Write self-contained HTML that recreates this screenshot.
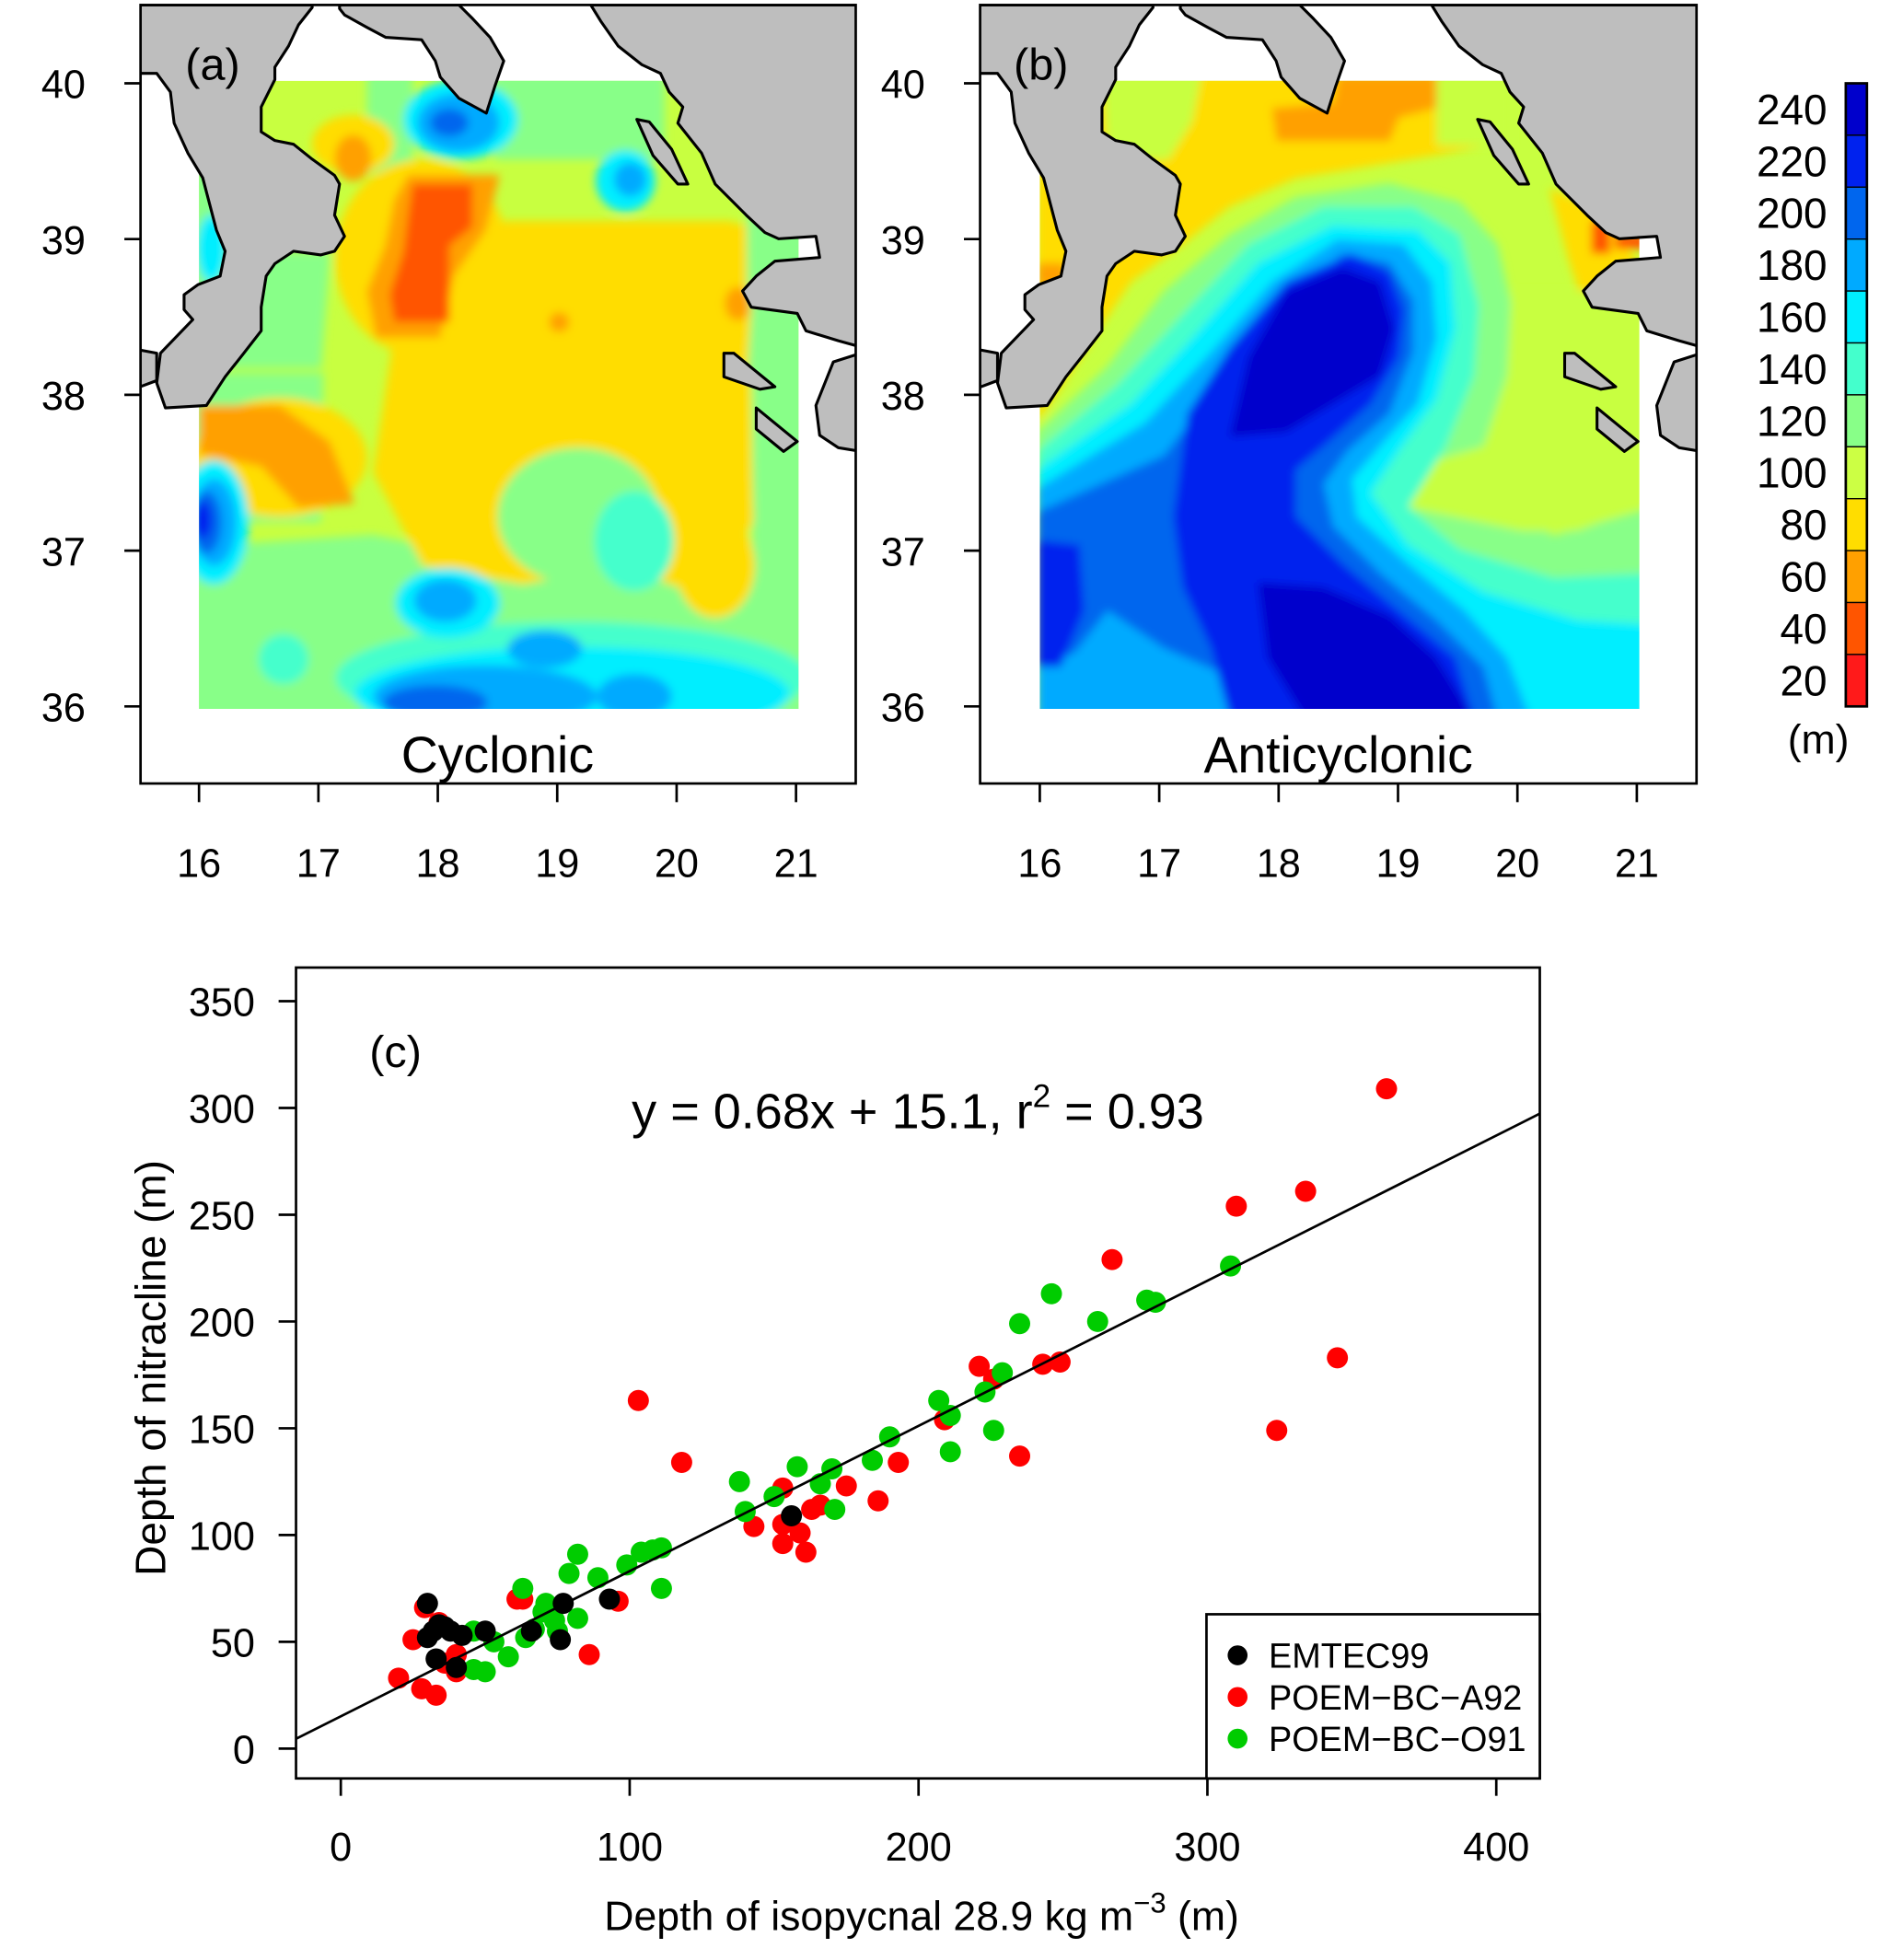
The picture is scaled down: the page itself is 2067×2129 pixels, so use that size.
<!DOCTYPE html>
<html><head><meta charset="utf-8"><style>
html,body{margin:0;padding:0;background:#fff}
svg{display:block}
text{font-family:"Liberation Sans",Arial,sans-serif;fill:#000}
</style></head><body>
<svg id="fig" width="2067" height="2129" viewBox="0 0 1530 1576" preserveAspectRatio="none" xmlns="http://www.w3.org/2000/svg">
<defs>
  <filter id="bl" x="-10%" y="-10%" width="120%" height="120%"><feGaussianBlur stdDeviation="3.5"/></filter>
  <clipPath id="gridA"><rect x="160" y="65" width="482" height="505"/></clipPath>
  <clipPath id="gridB"><rect x="836" y="65" width="482" height="505"/></clipPath>
  <clipPath id="boxA"><rect x="113" y="4" width="575" height="626"/></clipPath>
  <clipPath id="boxB"><rect x="788" y="4" width="576" height="626"/></clipPath>
  <clipPath id="boxC"><rect x="238" y="778" width="1000" height="652"/></clipPath>
  <g id="land">
    <path d="M110,4 L251,4 L251,6 L240,20 L232,37 L221,54 L221,64 L210,86 L210,106 L221,113 L236,116 L251,128 L269,141 L273,148 L269,173 L277,190 L269,202 L258,205 L236,202 L221,212 L214,222 L210,247 L210,266 L196,284 L181,303 L166,326 L133,328 L126,308 L129,284 L155,257 L148,249 L148,237 L159,229 L177,222 L181,202 L174,185 L163,143 L151,123 L140,99 L137,74 L126,59 L110,59 Z"/>
    <path d="M110,281 L126,284 L126,306 L110,312 Z"/>
    <path d="M273,4 L273,7 L277,12 L295,22 L310,30 L339,32 L350,49 L354,62 L369,79 L391,91 L398,69 L405,49 L394,30 L380,15 L369,4 Z"/>
    <path d="M475,4 L692,4 L692,279 L674,274 L648,266 L641,252 L604,247 L597,234 L608,222 L623,210 L659,207 L656,190 L626,192 L615,187 L600,173 L575,148 L564,123 L545,99 L549,86 L538,74 L531,59 L516,52 L497,37 L483,17 Z"/>
    <path d="M512,96 L522,98 L540,120 L553,148 L545,148 L525,125 Z"/>
    <path d="M582,284 L590,284 L623,311 L611,313 L582,303 Z"/>
    <path d="M608,328 L641,355 L630,363 L608,345 Z"/>
    <path d="M692,284 L670,291 L656,326 L659,350 L674,360 L692,363 Z"/>
  </g>
</defs>

<!-- PANEL A -->
<g>
  <g clip-path="url(#gridA)">
    <rect x="160" y="65" width="482" height="505" fill="#c8ff40"/>
    <g filter="url(#bl)">
      <!-- lower half, display coords -->
      <path fill="#88ff88" d="M150,300 L260,300 L258,420 L150,420 Z"/>
      <path fill="#88ff88" d="M150,440 L300,430 L420,455 L560,470 L650,440 L650,580 L150,580 Z"/>
      <path fill="#88ff88" d="M605,170 L650,170 L650,460 L605,460 Z"/>
      <path fill="#ffdd00" d="M330,180 L600,180 L606,420 L565,480 L500,455 L420,470 L340,455 L300,380 Z"/>
      <ellipse fill="#88ff88" cx="465" cy="415" rx="65" ry="55"/>
      <ellipse fill="#ffdd00" cx="575" cy="455" rx="32" ry="42"/>
      <ellipse fill="#ffdd00" cx="225" cy="368" rx="70" ry="48"/>
      <path fill="#ffa000" d="M160,326 L225,326 L265,355 L285,405 L240,408 L210,375 L160,365 Z"/>
      <ellipse fill="#44ffcc" cx="510" cy="435" rx="32" ry="40"/>
      <ellipse fill="#44ffcc" cx="228" cy="530" rx="20" ry="20"/>
      <ellipse fill="#44ffcc" cx="460" cy="545" rx="190" ry="45"/>
      <ellipse fill="#00eeff" cx="460" cy="558" rx="175" ry="38"/>
      <ellipse fill="#00eeff" cx="360" cy="485" rx="42" ry="28"/>
      <ellipse fill="#00eeff" cx="172" cy="420" rx="28" ry="50"/>
      <ellipse fill="#00aaff" cx="358" cy="483" rx="25" ry="17"/>
      <ellipse fill="#00aaff" cx="390" cy="560" rx="90" ry="25"/>
      <ellipse fill="#00aaff" cx="438" cy="522" rx="30" ry="15"/>
      <ellipse fill="#00aaff" cx="510" cy="560" rx="30" ry="18"/>
      <ellipse fill="#00aaff" cx="172" cy="420" rx="18" ry="35"/>
      <ellipse fill="#0066ee" cx="350" cy="565" rx="42" ry="14"/>
      <ellipse fill="#0066ee" cx="166" cy="420" rx="12" ry="25"/>
      <ellipse fill="#0022ee" cx="163" cy="418" rx="7" ry="15"/>
      <!-- upper half, zoom coords -->
      <g transform="translate(111,0) scale(0.368,0.2467)">
        <path fill="#88ff88" d="M500,240 L600,240 L600,560 L500,560 Z"/>
        <path fill="#88ff88" d="M780,240 L1150,240 L1150,520 L780,520 Z"/>
        <path fill="#88ff88" d="M800,740 L870,740 L870,870 L800,870 Z"/>
        <path fill="#88ff88" d="M120,560 L200,560 L200,1000 L120,1000 Z"/>
        <path fill="#88ff88" d="M200,820 L420,820 L400,1200 L200,1200 Z"/>
        <path fill="#88ff88" d="M1330,650 L1460,650 L1460,1240 L1330,1240 Z"/>
        <ellipse fill="#ffdd00" cx="470" cy="470" rx="90" ry="95"/>
        <ellipse fill="#ffdd00" cx="620" cy="840" rx="190" ry="320"/>
        <path fill="#ffdd00" d="M800,720 L1300,720 L1340,1000 L1330,1240 L800,1240 Z"/>
        <ellipse fill="#ffa000" cx="470" cy="515" rx="40" ry="75"/>
        <path fill="#ffa000" d="M590,570 L790,570 L760,750 L690,900 L660,1100 L520,1100 L500,950 L540,800 L560,650 Z"/>
        <path fill="#ff5500" d="M600,600 L730,600 L730,740 L680,800 L680,1050 L560,1050 L550,960 L580,820 L590,700 Z"/>
        <ellipse fill="#ffa000" cx="920" cy="1050" rx="22" ry="32"/>
        <ellipse fill="#ffa000" cx="1310" cy="990" rx="28" ry="55"/>
        <ellipse fill="#00eeff" cx="705" cy="390" rx="125" ry="130"/>
        <ellipse fill="#00aaff" cx="700" cy="400" rx="90" ry="95"/>
        <ellipse fill="#0066ee" cx="680" cy="400" rx="42" ry="45"/>
        <ellipse fill="#00eeff" cx="1065" cy="590" rx="65" ry="100"/>
        <ellipse fill="#00aaff" cx="1075" cy="585" rx="35" ry="55"/>
        <ellipse fill="#00eeff" cx="160" cy="810" rx="32" ry="110"/>
      </g>
    </g>
  </g>
  <g clip-path="url(#boxA)">
    <g fill="#bebebe" stroke="#000" stroke-width="2.3" stroke-linejoin="round"><use href="#land"/></g>
  </g>
  <rect x="113" y="4" width="575" height="626" fill="none" stroke="#000" stroke-width="2"/>
  <text x="149" y="64" font-size="36">(a)</text>
  <text x="400" y="621" font-size="41" text-anchor="middle">Cyclonic</text>
  <g id="axA"></g>
</g>

<!-- PANEL B -->
<g>
  <g clip-path="url(#gridB)">
    <rect x="836" y="65" width="482" height="505" fill="#c8ff40"/>
    <g filter="url(#bl)">
      <g transform="translate(777.2,0) scale(0.3777)">
        <path fill="#ffdd00" d="M150,160 L1150,160 L1150,300 L1000,330 L700,380 L560,440 L460,520 L350,600 L250,750 L150,900 Z"/>
        <path fill="#c8ff40" d="M290,160 L500,160 L480,260 L430,340 L300,340 Z"/>
        <path fill="#c8ff40" d="M1000,160 L1160,160 L1160,310 L1000,310 Z"/>
        <path fill="#ffdd00" d="M1240,400 L1350,450 L1460,600 L1460,900 L1400,900 L1330,700 L1280,550 Z"/>
        <path fill="#ffa000" d="M790,160 L1000,160 L1000,230 L920,250 L900,300 L660,300 L650,230 L780,220 Z"/>
        <path fill="#ffa000" d="M150,560 L210,560 L210,610 L150,610 Z"/>
        <path fill="#ff5500" d="M1330,470 L1370,470 L1370,540 L1330,540 Z"/>
        <path fill="#ff5500" d="M1380,500 L1450,500 L1450,530 L1380,530 Z"/>
        <path fill="#88ff88" d="M150,920 L300,780 L420,620 L560,500 L700,420 L900,390 L1050,430 L1130,520 L1160,650 L1160,800 L1140,930 L1100,1060 L1250,1140 L1460,1080 L1460,1530 L150,1530 Z"/>
        <path fill="#c8ff40" d="M1160,620 L1460,620 L1460,1070 L1300,1130 L1180,1130 L940,1080 L930,1000 L1100,950 L1150,800 Z"/>
        <path fill="#44ffcc" d="M150,960 L320,820 L450,680 L600,520 L760,440 L950,440 L1050,500 L1090,650 L1080,800 L1020,950 L940,1080 L1050,1170 L1250,1230 L1460,1220 L1460,1530 L150,1530 Z"/>
        <path fill="#00eeff" d="M150,1000 L350,860 L480,720 L620,560 L780,480 L960,490 L1030,560 L1040,700 L1000,850 L920,960 L860,1050 L940,1160 L1100,1260 L1300,1320 L1460,1330 L1460,1530 L150,1530 Z"/>
        <path fill="#00aaff" d="M150,1040 L380,900 L520,750 L650,600 L790,510 L930,520 L990,600 L1000,720 L960,860 L880,950 L820,1020 L830,1100 L940,1200 L1060,1300 L1150,1400 L1200,1530 L150,1530 Z"/>
        <path fill="#0066ee" d="M150,1090 L420,970 L550,800 L680,640 L800,540 L900,560 L950,640 L950,750 L900,880 L810,960 L760,1030 L780,1120 L880,1220 L1000,1320 L1100,1420 L1130,1530 L150,1530 Z"/>
        <path fill="#00aaff" d="M150,1420 L230,1390 L300,1300 L420,1380 L560,1440 L620,1530 L150,1530 Z"/>
        <path fill="#0022ee" d="M440,1100 L470,880 L560,740 L680,600 L820,540 L900,580 L930,660 L920,760 L860,860 L760,950 L700,1000 L700,1100 L800,1200 L920,1300 L1040,1400 L1080,1530 L560,1530 L520,1380 L460,1250 Z"/>
        <path fill="#0022ee" d="M150,1150 L240,1160 L250,1300 L200,1420 L150,1420 Z"/>
        <path fill="#0000cc" d="M560,930 L600,760 L680,620 L800,570 L880,600 L910,700 L880,800 L780,860 L680,920 Z"/>
        <path fill="#0000cc" d="M620,1240 L760,1250 L900,1310 L1000,1400 L1080,1530 L720,1530 L640,1400 Z"/>
      </g>
    </g>
  </g>
  <g clip-path="url(#boxB)">
    <g transform="translate(676,0)" fill="#bebebe" stroke="#000" stroke-width="2.3" stroke-linejoin="round"><use href="#land"/></g>
  </g>
  <rect x="788" y="4" width="576" height="626" fill="none" stroke="#000" stroke-width="2"/>
  <text x="815" y="64" font-size="36">(b)</text>
  <text x="1076" y="621" font-size="41" text-anchor="middle">Anticyclonic</text>
  <g id="axB"></g>
</g>

<g id="cbar"></g>
<text x="1462" y="606" font-size="33" text-anchor="middle">(m)</text>

<!-- PANEL C -->
<g>
  <g id="plotC" clip-path="url(#boxC)"></g>
  <rect x="238" y="778" width="1000" height="652" fill="none" stroke="#000" stroke-width="2"/>
  <g id="axC"></g>
  <text x="297" y="858" font-size="36">(c)</text>
  <text x="738" y="907" font-size="40" text-anchor="middle">y = 0.68x + 15.1, r<tspan dy="-17" font-size="26">2</tspan><tspan dy="17"> = 0.93</tspan></text>
  <text x="741" y="1552" font-size="33" text-anchor="middle">Depth of isopycnal 28.9 kg m<tspan dy="-14" font-size="23">−3</tspan><tspan dy="14">  (m)</tspan></text>
  <text x="0" y="0" font-size="34" text-anchor="middle" transform="translate(133,1100) rotate(-90)">Depth of nitracline (m)</text>
  <g>
    <rect x="970" y="1298" width="268" height="132" fill="#fff" stroke="#000" stroke-width="2"/>
    <g id="legC"></g>
  </g>
</g>

<script>
const NS='http://www.w3.org/2000/svg';
function mk(tag,attrs,parent){const e=document.createElementNS(NS,tag);for(const k in attrs)e.setAttribute(k,attrs[k]);parent.appendChild(e);return e;}

const lonTicks=[16,17,18,19,20,21];
const latTicks=[36,37,38,39,40];
function mapAxes(g,x0,boxL){
  const lx=v=>x0+(v-16)*96, ly=v=>568-(v-36)*125.25;
  lonTicks.forEach(v=>{
    const t=mk('line',{x1:lx(v),x2:lx(v),y1:630,y2:645,stroke:'#000','stroke-width':2},g);
    
    
    const l=mk('text',{x:lx(v),y:705,'font-size':32,'text-anchor':'middle'},g);
    l.textContent=v;
    
    
  });
  latTicks.forEach(v=>{
    const t=mk('line',{x1:boxL-13,x2:boxL,y1:ly(v),y2:ly(v),stroke:'#000','stroke-width':2},g);
    
    
    const l=mk('text',{x:boxL-62,y:ly(v)+12,'font-size':32,'text-anchor':'middle'},g);
    l.textContent=v;
    
    
  });
}
mapAxes(document.getElementById('axA'),160,113);
mapAxes(document.getElementById('axB'),836,788);

const cbLabels=[240,220,200,180,160,140,120,100,80,60,40,20];
const cbColors=['#0000cc','#0022ee','#0066ee','#00aaff','#00eeff','#44ffcc','#88ff88','#ccff44','#ffdd00','#ffa000','#ff5500','#ff1a1a'];
(function(){
  const g=document.getElementById('cbar');const top=67,h=(568-67)/cbLabels.length;
  cbLabels.forEach((v,i)=>{
    const r=mk('rect',{x:1484,y:top+i*h,width:17,height:h,fill:cbColors[i],stroke:'#000','stroke-width':1},g);
    
    
    const l=mk('text',{x:1469,y:top+i*h+h/2+12,'font-size':34,'text-anchor':'end'},g);
    l.textContent=v;
    
    
  });
  mk('rect',{x:1484,y:67,width:17,height:501,fill:'none',stroke:'#000','stroke-width':2},g);
})();

const xTicks=[0,100,200,300,400];
const yTicks=[0,50,100,150,200,250,300,350];
const emtecX=[30,32,34,33,36,40,42,50,66,77,76,93,156,38,30];
const emtecY=[68,55,58,42,57,38,53,55,55,68,51,70,109,55,52];
const a92X=[362,310,334,267,345,324,249,243,221,226,209,235,193,186,175,166,163,153,161,153,159,153,143,103,118,96,86,61,63,20,28,33,25,29,34,40,40,36];
const a92Y=[309,254,261,229,183,149,181,180,179,173,154,137,134,116,123,114,112,105,92,96,101,122,104,163,134,69,44,70,70,33,28,25,51,66,59,36,44,40];
const o91X=[308,279,282,262,246,235,229,223,226,211,211,207,190,184,170,171,166,158,150,138,140,111,108,104,99,111,82,79,89,75,82,71,74,67,63,64,58,50,46,53,46,70];
const o91Y=[226,210,209,200,213,199,176,167,149,156,139,163,146,135,131,112,124,132,118,125,111,94,93,92,86,75,91,82,80,55,61,68,60,56,75,52,43,36,37,50,55,64];
const slope=0.68, intercept=15.1;
const sx=v=>274+v*2.3225, sy=v=>1406-v*1.717;
(function(){
  const ax=document.getElementById('axC');
  xTicks.forEach(v=>{
    const t=mk('line',{x1:sx(v),x2:sx(v),y1:1430,y2:1444,stroke:'#000','stroke-width':2},ax);
    
    
    const l=mk('text',{x:sx(v),y:1496,'font-size':32,'text-anchor':'middle'},ax);
    l.textContent=v;
    
    
  });
  yTicks.forEach(v=>{
    const t=mk('line',{x1:224,x2:238,y1:sy(v),y2:sy(v),stroke:'#000','stroke-width':2},ax);
    
    
    const l=mk('text',{x:205,y:sy(v)+12,'font-size':32,'text-anchor':'end'},ax);
    l.textContent=v;
    
    
  });
  const p=document.getElementById('plotC');
  const ser=[[a92X,a92Y,'#ff0000','point-a92'],[o91X,o91Y,'#00cc00','point-o91'],[emtecX,emtecY,'#000000','point-emtec99']];
  ser.forEach(s=>{
    s[0].forEach((x,i)=>{
      const c=mk('circle',{cx:sx(x),cy:sy(s[1][i]),r:8.5,fill:s[2]},p);
      
      
    });
  });
  const x1=-20,x2=420;
  const ln=mk('line',{x1:sx(x1),y1:sy(slope*x1+intercept),x2:sx(x2),y2:sy(slope*x2+intercept),stroke:'#000','stroke-width':2},p);
  
  
  const lg=document.getElementById('legC');
  const legNames=['EMTEC99','POEM−BC−A92','POEM−BC−O91'];
  const legCols=['#000000','#ff0000','#00cc00'];
  legNames.forEach((n,i)=>{
    const y=1331+i*33.5;
    const c=mk('circle',{cx:995,cy:y,r:8,fill:legCols[i]},lg);
    
    
    const t=mk('text',{x:1020,y:y+10,'font-size':28},lg);
    t.textContent=n;
    
    
  });
})();
</script>
</svg>
</body></html>
